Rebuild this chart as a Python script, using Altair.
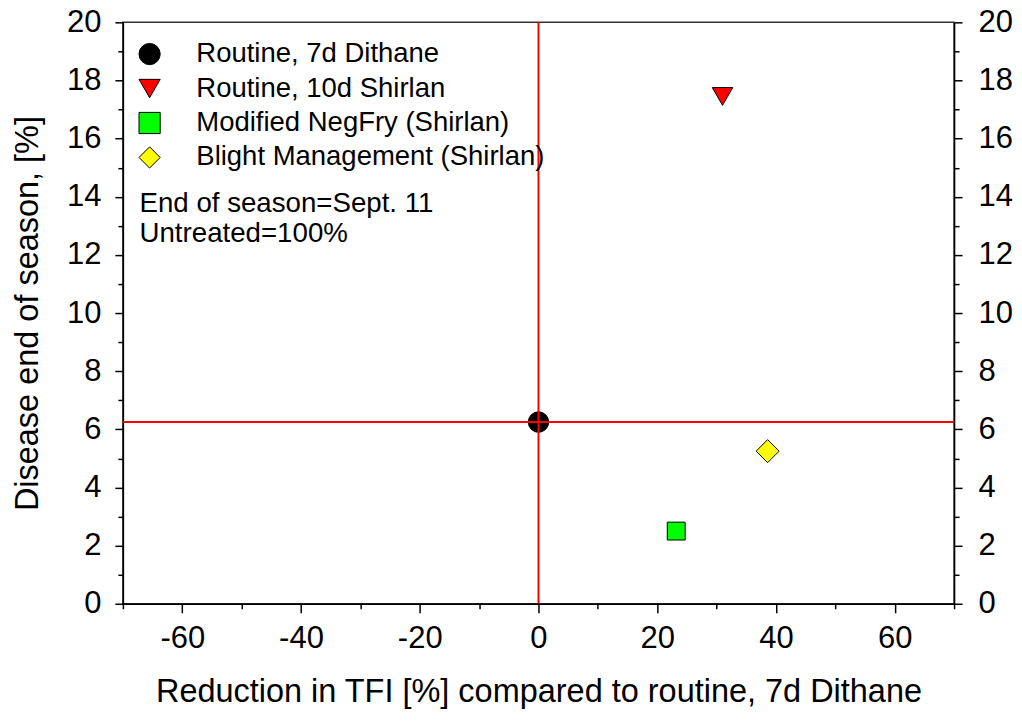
import altair as alt
import pandas as pd

# ---- data ----
treatments = ["Routine, 7d Dithane", "Routine, 10d Shirlan",
              "Modified NegFry (Shirlan)", "Blight Management (Shirlan)"]
tfi_reduction = [0.0, 31.0, 23.2, 38.6]
disease_end = [6.25, 17.45, 2.5, 5.25]

shapes = ["circle", "triangle-down", "square", "diamond"]
fills = ["#000000", "#ff0000", "#00ff00", "#ffff00"]
edges = ["#000000", "#000000", "#000000", "#000000"]
sizes = [420, 420, 320, 529]

x_major = [-60, -40, -20, 0, 20, 40, 60]
x_minor = [-70, -50, -30, -10, 10, 30, 50, 70]
y_major = [0, 2, 4, 6, 8, 10, 12, 14, 16, 18, 20]
y_minor = [1, 3, 5, 7, 9, 11, 13, 15, 17, 19]

ref_x = [0.0]
ref_y = [6.25]

note_lines = ["End of season=Sept. 11", "Untreated=100%"]
note_x = [-67.2, -67.2]
note_y = [13.47, 12.44]

FONT = "Liberation Sans"

df = pd.DataFrame({"label": treatments, "x": tfi_reduction, "y": disease_end, "size": sizes})
ref_x_df = pd.DataFrame({"x": ref_x})
ref_y_df = pd.DataFrame({"y": ref_y})
notes_df = pd.DataFrame({"text": note_lines, "x": note_x, "y": note_y})

xscale = alt.Scale(domain=[-70, 70], nice=False, zero=False)
yscale = alt.Scale(domain=[0, 20], nice=False, zero=False)

legend = alt.Legend(
    title=None, orient="none", legendX=13, legendY=18, padding=0,
    labelFontSize=27.5, labelFont=FONT, labelColor="#000", labelOffset=33,
    labelLimit=0, rowPadding=5.5, symbolSize=450,
    symbolStrokeColor="#000", symbolStrokeWidth=1,
)

plain = "replace(datum.label, '\u2212', '-')"

points = alt.Chart(df).mark_point(filled=True, strokeWidth=1, opacity=1).encode(
    x=alt.X("x:Q", scale=xscale, axis=alt.Axis(
        orient="bottom", values=x_major, tickSize=9, labelFontSize=31, labelPadding=11,
        labelExpr=plain,
        title="Reduction in TFI [%] compared to routine, 7d Dithane",
        titleFontSize=32.5, titleFontWeight="normal", titlePadding=22)),
    y=alt.Y("y:Q", scale=yscale, axis=alt.Axis(
        orient="left", values=y_major, tickSize=8, labelFontSize=31, labelPadding=14,
        title="Disease end of season, [%]", titleFontSize=32.5,
        titleFontWeight="normal", titlePadding=22)),
    shape=alt.Shape("label:N", scale=alt.Scale(domain=treatments, range=shapes), legend=legend),
    fill=alt.Fill("label:N", scale=alt.Scale(domain=treatments, range=fills), legend=legend),
    stroke=alt.Stroke("label:N", scale=alt.Scale(domain=treatments, range=edges), legend=legend),
    size=alt.Size("size:Q", scale=None),
)

minor_lb = alt.Chart(df).mark_point(opacity=0).encode(
    x=alt.X("x:Q", scale=xscale, axis=alt.Axis(
        orient="bottom", values=x_minor, tickSize=5, labels=False, domain=False, title=None)),
    y=alt.Y("y:Q", scale=yscale, axis=alt.Axis(
        orient="left", values=y_minor, tickSize=5, labels=False, domain=False, title=None)),
)

right_major = alt.Chart(df).mark_point(opacity=0).encode(
    y=alt.Y("y:Q", scale=yscale, axis=alt.Axis(
        orient="right", values=y_major, tickSize=8, labelFontSize=31, labelPadding=16,
        title=None)),
)

right_minor = alt.Chart(df).mark_point(opacity=0).encode(
    y=alt.Y("y:Q", scale=yscale, axis=alt.Axis(
        orient="right", values=y_minor, tickSize=5, labels=False, domain=False, title=None)),
)

vrule = alt.Chart(ref_x_df).mark_rule(color="#ff0000", strokeWidth=2).encode(
    x=alt.X("x:Q", scale=xscale, axis=None))
hrule = alt.Chart(ref_y_df).mark_rule(color="#ff0000", strokeWidth=2).encode(
    y=alt.Y("y:Q", scale=yscale, axis=None))

notes = alt.Chart(notes_df).mark_text(
    align="left", baseline="alphabetic", fontSize=27.7, font=FONT, color="#000").encode(
    x=alt.X("x:Q", scale=xscale, axis=None),
    y=alt.Y("y:Q", scale=yscale, axis=None),
    text="text:N",
)

chart = alt.layer(points, minor_lb, right_major, right_minor, vrule, hrule, notes).resolve_axis(
    x="independent", y="independent"
).properties(
    width=832, height=582, autosize="none",
    padding={"left": 115, "top": 14, "right": 60, "bottom": 114},
).configure_axis(
    grid=False, domainColor="#000", domainWidth=1.5, tickColor="#000", tickWidth=1.5,
    labelFont=FONT, titleFont=FONT, labelColor="#000", titleColor="#000",
).configure_view(stroke="#333", strokeWidth=1.5)

chart.save("out.html", embed_options={"renderer": "svg", "actions": False})
